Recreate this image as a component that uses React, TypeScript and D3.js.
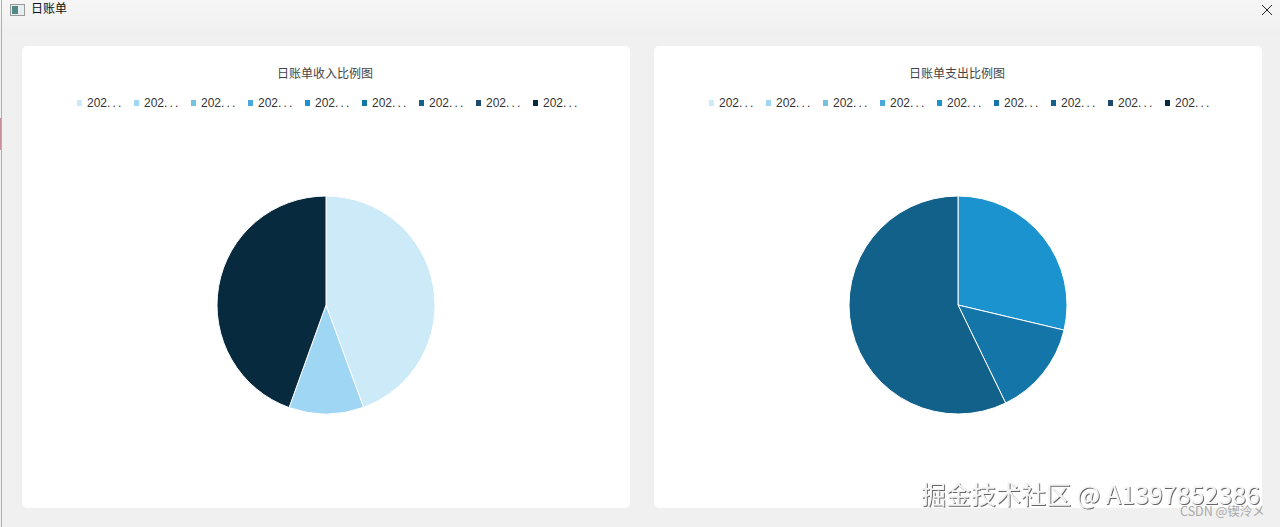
import React from "react";
import * as d3 from "d3";

const palette = ["#cdeaf8", "#9fd6f3", "#73c3de", "#4aa8dd", "#1b93cf", "#1476a8", "#11618a", "#1d4a6b", "#082a3f"];
const legendYears = ["202", "202", "202", "202", "202", "202", "202", "202", "202"];
const incomeValues = [44.4, 11.1, 0, 0, 0, 0, 0, 0, 44.5];
const expenseValues = [0, 0, 0, 0, 28.7, 14.1, 57.2, 0, 0];
const incomeTitle = "日账单收入比例图";
const expenseTitle = "日账单支出比例图";
const windowTitle = "日账单";
const watermark = "掘金技术社区 @ A1397852386";
const credit = "CSDN @锲泠メ";

const W = 1280;
const H = 527;
const FONT = "'Noto Sans CJK SC', 'Liberation Sans', sans-serif";
const SANS = "'Liberation Sans', 'Noto Sans CJK SC', sans-serif";

function Card({ x, title, values }: { x: number; title: string; values: number[] }) {
  const cardW = 608;
  const cx = x + 304;
  const cy = 305;
  const arcs = d3.pie<number>().sort(null)(values);
  const arc = d3.arc<d3.PieArcDatum<number>>().innerRadius(0).outerRadius(109);
  const legendX = d3.scaleBand<number>().domain(d3.range(legendYears.length)).range([x + 55, x + 55 + 57 * 9]);
  return (
    <g>
      <rect x={x} y={46} width={cardW} height={462} rx={5} fill="#ffffff" />
      <text x={cx - 1} y={78} textAnchor="middle" fontFamily={FONT} fontSize={12} fill="#444444">{title}</text>
      {legendYears.map((l, i) => (
        <g key={i} transform={`translate(${legendX(i)},0)`}>
          <rect x={0} y={100} width={5} height={6} fill={palette[i]} />
          <text x={10} y={106.5} fontFamily={SANS} fontSize={12} fill="#333333">
            {l}
            <tspan letterSpacing={2.2}>...</tspan>
          </text>
        </g>
      ))}
      <g transform={`translate(${cx},${cy})`}>
        {arcs.filter((a) => a.value > 0).map((a) => (
          <path key={a.index} d={arc(a) as string} fill={palette[a.index]} stroke="#ffffff" strokeWidth={1} />
        ))}
      </g>
    </g>
  );
}

export default function App() {
  return (
    <svg width={W} height={H} viewBox={`0 0 ${W} ${H}`} style={{ position: "fixed", left: 0, top: 0, display: "block" }}>
      <defs>
        <linearGradient id="hdr" x1="0" y1="0" x2="0" y2="1">
          <stop offset="0" stopColor="#f6f6f6" />
          <stop offset="1" stopColor="#efefef" />
        </linearGradient>
        <filter id="shadow" x="-5%" y="-20%" width="110%" height="140%">
          <feDropShadow dx="1" dy="1" stdDeviation="0.6" floodColor="#666666" />
        </filter>
      </defs>
      <rect width={W} height={H} fill="#f0f0f0" />
      <rect width={W} height={36} fill="url(#hdr)" />
      <rect x={1} y={0} width={1} height={H} fill="#b0b0b0" />
      <rect x={0} y={118} width={1} height={32} fill="#c9909c" />
      <g>
        <rect x={10.5} y={4.5} width={14} height={11} fill="#e8eeee" stroke="#9a9a9a" />
        <rect x={12} y={6} width={6} height={8} fill="#4f8a86" />
      </g>
      <text x={31} y={13} fontFamily={FONT} fontSize={12} fill="#111111">{windowTitle}</text>
      <path d="M1262 5 L1272 15 M1272 5 L1262 15" stroke="#222222" strokeWidth={1} fill="none" />
      <Card x={22} title={incomeTitle} values={incomeValues} />
      <Card x={654} title={expenseTitle} values={expenseValues} />
      <text x={921} y={504} fontFamily={FONT} fontSize={25} fill="#f4f4f4" filter="url(#shadow)">{watermark}</text>
      <text x={1180} y={516} fontFamily={FONT} fontSize={12.5} fill="#a8a8a8">{credit}</text>
    </svg>
  );
}
